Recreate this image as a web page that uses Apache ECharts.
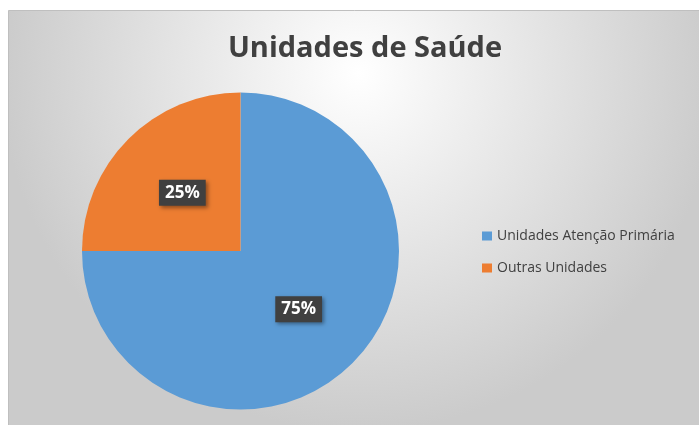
<!DOCTYPE html>
<html>
<head>
<meta charset="utf-8">
<script src="https://cdn.jsdelivr.net/npm/echarts@6/dist/echarts.min.js"></script>
<style>
html,body{margin:0;padding:0;background:#fff;}
#c{width:699px;height:425px;}
</style>
</head>
<body>
<div id="c"></div>
<script>
const categories = ['Unidades Atenção Primária', 'Outras Unidades'];
const values = [75, 25];
const colors = ['#5B9BD5', '#ED7D31'];
const titleText = 'Unidades de Saúde';

const chart = echarts.init(document.getElementById('c'), null, {renderer: 'canvas'});
chart.setOption({
  animation: false,
  graphic: [{
    type: 'rect',
    z: -10,
    shape: {x: 8.5, y: 10.5, width: 700, height: 420},
    style: {
      fill: {
        type: 'radial', x: 0.5, y: 0.15, r: 0.85,
        colorStops: [{offset: 0, color: '#ffffff'}, {offset: 1, color: '#cbcbcb'}]
      },
      stroke: '#bfbfbf', lineWidth: 1
    }
  }],
  title: {
    text: titleText,
    left: 360, top: 29, textAlign: 'center',
    textStyle: {fontFamily: 'Open Sans', fontWeight: 'bold', fontSize: 29, color: '#404040'}
  },
  legend: {
    orient: 'vertical',
    left: 477, top: 224,
    padding: 5,
    itemWidth: 10, itemHeight: 9, itemGap: 18,
    icon: 'rect',
    data: categories,
    textStyle: {fontFamily: 'Open Sans', fontSize: 14, color: '#404040'}
  },
  series: [{
    type: 'pie',
    center: [240.5, 251],
    radius: [0, 158.5],
    startAngle: 90,
    clockwise: true,
    color: colors,
    data: categories.map((c, i) => ({name: c, value: values[i]})),
    label: {
      show: true,
      position: 'inside',
      formatter: p => Math.round(p.percent) + '%',
      fontFamily: 'Open Sans', fontWeight: 'bold', fontSize: 17, color: '#ffffff',
      backgroundColor: '#404040',
      padding: [5, 6, 4, 6],
      shadowColor: 'rgba(0,0,0,0.4)', shadowBlur: 4, shadowOffsetX: 2, shadowOffsetY: 2
    },
    labelLine: {show: false},
    itemStyle: {borderWidth: 0}
  }]
});
</script>
</body>
</html>
